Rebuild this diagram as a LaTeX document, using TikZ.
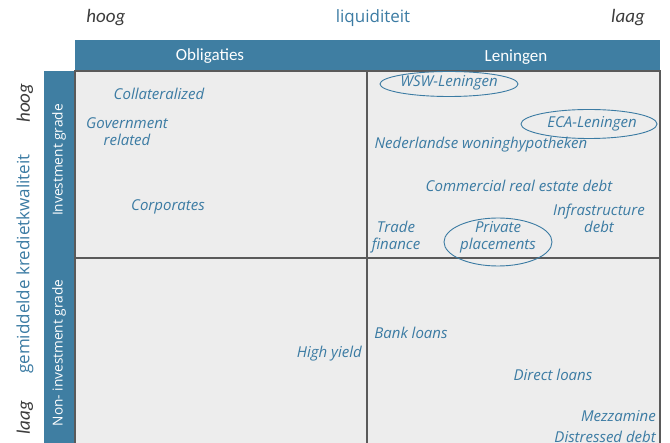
\documentclass[tikz,border=0pt]{standalone}
\usepackage{fontspec}
\setmainfont{Carlito}
\newfontfamily\labelfont{Open Sans}
\usetikzlibrary{shapes.geometric}
\definecolor{barblue}{HTML}{3F7EA2}
\definecolor{txtblue}{HTML}{3B7BA3}
\definecolor{cellgray}{HTML}{EDEDED}
\definecolor{gridline}{HTML}{5A5A5A}
\definecolor{axisgray}{HTML}{3C3C3C}
\tikzset{
  item/.style={text=txtblue, font=\labelfont\itshape\fontsize{15}{17}\selectfont, inner sep=1pt, align=center},
  axis/.style={text=axisgray, font=\itshape\fontsize{19}{21}\selectfont, inner sep=0pt},
  axistitle/.style={text=txtblue, font=\labelfont\fontsize{17}{19}\selectfont, inner sep=0pt},
  headtext/.style={text=white, font=\fontsize{17}{19}\selectfont, inner sep=0pt},
  sidetext/.style={text=white, font=\labelfont\fontsize{13.7}{16}\selectfont, inner sep=0pt, rotate=90},
  ring/.style={draw=txtblue, ellipse, line width=0.9pt},
}
\begin{document}
\begin{tikzpicture}[x=1pt,y=-1pt]
\useasboundingbox (0,0) rectangle (670,443);
\begin{scope}
\clip (0,0) rectangle (670,443);
% header bars
\fill[barblue] (75,40) rectangle (660,71);
\fill[barblue] (44,71) rectangle (75,450);
% grid
\fill[cellgray] (75,71) rectangle (660,450);
\draw[gridline, line width=1.2pt] (75,71) rectangle (660,450);
\draw[gridline, line width=1.2pt] (367,71) -- (367,450);
\draw[gridline, line width=1.2pt] (75,258) -- (660,258);
\end{scope}

% axis labels
\node[axis] (lqh) at (106,18) {hoog};
\node[axistitle] (lq) at (373,18) {liquiditeit};
\node[axis] (lql) at (628,18) {laag};
\node[axis, rotate=90] (kwh) at (25,103) {hoog};
\node[axistitle, rotate=90] (kw) at (25,264) {gemiddelde kredietkwaliteit};
\node[axis, rotate=90] (kwl) at (25,418) {laag};

% column and row headers
\node[headtext] (obl) at (210,56) {Obligaties};
\node[headtext] (len) at (516,57) {Leningen};
\node[sidetext] (ig) at (59,160) {Investment grade};
\node[sidetext] (nig) at (59,353) {Non- investment grade};

% bonds, investment grade
\node[item] (coll) at (159,94) {Collateralized};
\node[item] (gov) at (127,132) {Government\\related};
\node[item] (corp) at (168,207) {Corporates};

% loans, investment grade
\node[item] (wsw) at (449,83) {WSW-Leningen};
\node[ring, minimum width=138pt, minimum height=25pt] (wswr) at (449,84) {};
\node[item] (eca) at (592,124) {ECA-Leningen};
\node[ring, minimum width=136pt, minimum height=29pt] (ecar) at (589,124) {};
\node[item] (nwh) at (481,145) {Nederlandse woninghypotheken};
\node[item] (cre) at (519,186) {Commercial real estate debt};
\node[item] (infra) at (599,218) {Infrastructure\\debt};
\node[item] (trade) at (396,237) {Trade\\finance};
\node[item] (pp) at (498,237) {Private\\placements};
\node[ring, minimum width=108pt, minimum height=48pt] (ppr) at (498,242) {};

% non-investment grade
\node[item, anchor=east] (hy) at (363,354) {High yield};
\node[item] (bank) at (411,333) {Bank loans};
\node[item] (direct) at (553,375) {Direct loans};
\node[item, anchor=east] (mezz) at (657,416) {Mezzamine};
\node[item, anchor=east] (dist) at (657,437) {Distressed debt};
\end{tikzpicture}
\end{document}
